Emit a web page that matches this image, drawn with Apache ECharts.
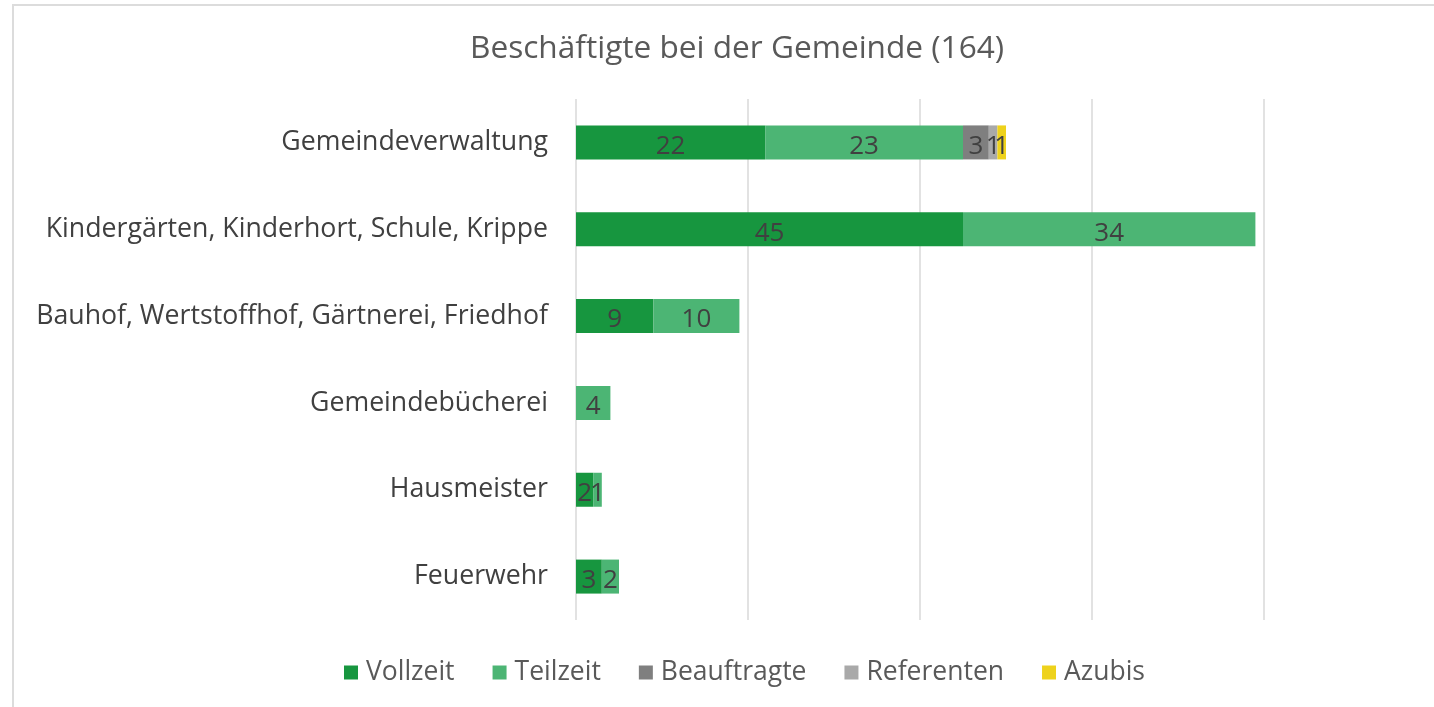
<!DOCTYPE html>
<html>
<head>
<meta charset="utf-8">
<script src="https://cdn.jsdelivr.net/npm/echarts@6/dist/echarts.min.js"></script>
<style>
html,body{margin:0;padding:0;background:#fff;}
#chart{width:1434px;height:707px;}
</style>
</head>
<body>
<div id="chart"></div>
<script>
const title = 'Beschäftigte bei der Gemeinde (164)';
const categories = ['Gemeindeverwaltung', 'Kindergärten, Kinderhort, Schule, Krippe', 'Bauhof, Wertstoffhof, Gärtnerei, Friedhof', 'Gemeindebücherei', 'Hausmeister', 'Feuerwehr'];
const seriesNames = ['Vollzeit', 'Teilzeit', 'Beauftragte', 'Referenten', 'Azubis'];
const vollzeit = [22, 45, 9, null, 2, 3];
const teilzeit = [23, 34, 10, 4, 1, 2];
const beauftragte = [3, null, null, null, null, null];
const referenten = [1, null, null, null, null, null];
const azubis = [1, null, null, null, null, null];
const colors = ['#17963f', '#4cb574', '#7f7f7f', '#a9a9a9', '#eed21c'];
const axisTicks = [0, 20, 40, 60, 80];

const values = [vollzeit, teilzeit, beauftragte, referenten, azubis];
const FONT = 'Open Sans';

const chart = echarts.init(document.getElementById('chart'));
chart.setOption({
  backgroundColor: '#fff',
  animation: false,
  textStyle: { fontFamily: FONT },
  title: {
    text: title,
    left: 465,
    top: 28,
    textStyle: { fontFamily: FONT, fontSize: 31.6, fontWeight: 'normal', color: '#595959' }
  },
  legend: {
    bottom: 16,
    left: 339,
    itemWidth: 14,
    itemHeight: 14,
    itemGap: 38,
    icon: 'rect',
    textStyle: { fontFamily: FONT, fontSize: 26.5, color: '#595959', padding: [0, 0, 0, 3] },
    data: seriesNames
  },
  grid: { left: 576, right: 170, top: 99, bottom: 87, containLabel: false },
  xAxis: {
    type: 'value',
    min: axisTicks[0],
    max: axisTicks[axisTicks.length - 1],
    interval: axisTicks[1] - axisTicks[0],
    axisLabel: { show: false },
    axisLine: { show: false },
    axisTick: { show: false },
    splitLine: { show: true, lineStyle: { color: '#d9d9d9', width: 1.5 } }
  },
  yAxis: {
    type: 'category',
    inverse: true,
    data: categories,
    axisLine: { show: false },
    axisTick: { show: false },
    axisLabel: { fontFamily: FONT, fontSize: 26.7, color: '#404040', margin: 28 }
  },
  series: seriesNames.map((name, i) => ({
    name: name,
    type: 'bar',
    stack: 'total',
    barWidth: 34,
    data: values[i],
    itemStyle: { color: colors[i] },
    label: {
      show: true,
      position: 'inside',
      offset: [0, 4],
      fontFamily: FONT,
      fontSize: 26,
      color: '#404040',
      formatter: p => (p.value ? p.value : '')
    }
  })),
  graphic: [{
    type: 'rect',
    shape: { x: 13, y: 5, width: 1440, height: 720 },
    style: { fill: null, stroke: '#dcdcdc', lineWidth: 2 },
    silent: true
  }]
});
</script>
</body>
</html>
